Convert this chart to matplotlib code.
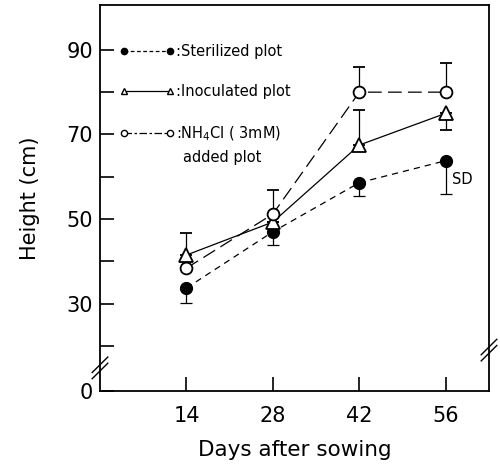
import numpy as np
import matplotlib.pyplot as plt
from matplotlib.lines import Line2D

days = [14, 28, 42, 56]

steril = [33.7, 47.0, 58.6, 63.8]
steril_lo = [3.6, 3.2, 3.1, 7.8]
steril_hi = [0, 0, 0, 0]

inoc = [41.5, 49.3, 67.5, 75.0]
inoc_lo = [0, 0, 0, 4.0]
inoc_hi = [5.2, 0, 8.3, 0]

nh4 = [38.4, 51.2, 80.0, 80.0]
nh4_lo = [0, 0, 0, 0]
nh4_hi = [0, 5.7, 6.0, 6.9]

ymin, ymax = 9.36, 100.6

fig = plt.figure(figsize=(5, 4.67), dpi=100)
ax = fig.add_axes([0.2, 0.1627, 0.778, 0.8266])

lw = 0.9
ax.errorbar(days, steril, yerr=[steril_lo, steril_hi], color='black', lw=lw,
            ls=(0, (5, 4)), marker='o', ms=8.5, mfc='black', mec='black',
            ecolor='black', elinewidth=lw, capsize=4.5, capthick=lw)
ax.errorbar(days, inoc, yerr=[inoc_lo, inoc_hi], color='black', lw=lw,
            ls='-', marker='^', ms=10, mfc='white', mec='black', mew=1.3,
            ecolor='black', elinewidth=lw, capsize=4.5, capthick=lw)
ax.errorbar(days, nh4, yerr=[nh4_lo, nh4_hi], color='black', lw=lw,
            ls=(0, (11, 5)), marker='o', ms=8.5, mfc='white', mec='black', mew=1.3,
            ecolor='black', elinewidth=lw, capsize=4.5, capthick=lw)

ax.set_xlim(0, 63)
ax.set_ylim(ymin, ymax)

ax.set_xticks(days)
ax.set_xticklabels([str(d) for d in days])
ax.set_yticks([ymin, 30, 50, 70, 90])
ax.set_yticklabels(['0', '30', '50', '70', '90'])
ax.set_yticks([20, 40, 60, 80], minor=True)
ax.tick_params(axis='both', which='both', direction='in', length=10, width=1.2,
               labelsize=15)
ax.tick_params(axis='x', pad=11)
ax.tick_params(axis='y', pad=5)

for s in ax.spines.values():
    s.set_linewidth(1.3)

ax.set_ylabel('Height (cm)', fontsize=15, labelpad=19)
ax.set_xlabel('Days after sowing', fontsize=15.5, labelpad=10)

# axis breaks
for x0, y0 in [(0.0, 0.06), (1.0, 0.106)]:
    for dy in (-0.008, 0.008):
        ax.plot([x0 - 0.02, x0 + 0.02], [y0 + dy - 0.02, y0 + dy + 0.02],
                transform=ax.transAxes, color='black', lw=1.0, clip_on=False)

handles = [
    Line2D([], [], color='black', lw=lw, ls=(0, (3, 2)), marker='o', ms=4.5,
           mfc='black', mec='black'),
    Line2D([], [], color='black', lw=lw, ls='-', marker='^', ms=5,
           mfc='white', mec='black'),
    Line2D([], [], color='black', lw=lw, ls=(0, (6, 2, 2, 2)), marker='o', ms=4.5,
           mfc='white', mec='black'),
]
labels = [':Sterilized plot', ':Inoculated plot', ':NH$_4$Cl ( 3mM)']
ax.legend(handles, labels, loc='upper left', bbox_to_anchor=(0.035, 0.915),
          frameon=False, numpoints=2, handlelength=3.8, handletextpad=0.1,
          labelspacing=1.75, fontsize=10.5, borderaxespad=0)
ax.text(0.213, 0.606, 'added plot', transform=ax.transAxes, fontsize=10.5,
        va='center', ha='left')
ax.text(days[-1] + 1.0, 59.3, 'SD', fontsize=10.5, va='center', ha='left')

fig.savefig('out.png', dpi=100)
